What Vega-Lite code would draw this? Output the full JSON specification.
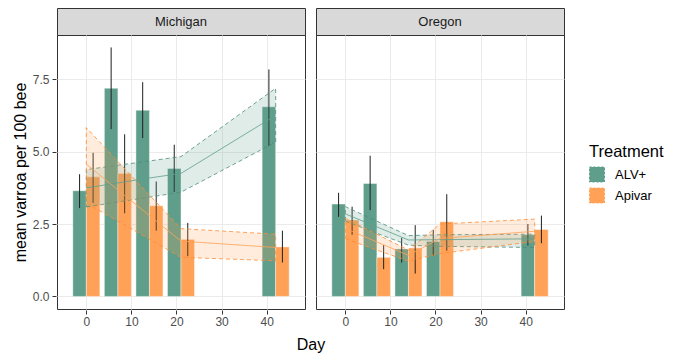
{
  "$schema": "https://vega.github.io/schema/vega-lite/v6.json",
  "background": "white",
  "padding": {"left": 12, "top": 7, "right": 5, "bottom": 4},
  "bounds": "flush",
  "spacing": 27,
  "config": {
    "font": "Liberation Sans",
    "view": {"stroke": "#333333", "strokeWidth": 1}
  },
  "datasets": {
    "strips": [{"State": "Michigan"}, {"State": "Oregon"}],
    "varroa": [
      {"State": "Michigan", "Treatment": "ALV+", "Day": 0, "mean": 3.65, "lo": 3.05, "hi": 4.22, "fit": 3.75, "fit_lo": 3.09, "fit_hi": 4.38},
      {"State": "Michigan", "Treatment": "ALV+", "Day": 7, "mean": 7.19, "lo": 5.78, "hi": 8.6, "fit": 3.92, "fit_lo": 3.26, "fit_hi": 4.53},
      {"State": "Michigan", "Treatment": "ALV+", "Day": 14, "mean": 6.43, "lo": 5.47, "hi": 7.4, "fit": 4.09, "fit_lo": 3.43, "fit_hi": 4.68},
      {"State": "Michigan", "Treatment": "ALV+", "Day": 21, "mean": 4.42, "lo": 3.61, "hi": 5.24, "fit": 4.25, "fit_lo": 3.6, "fit_hi": 4.83},
      {"State": "Michigan", "Treatment": "ALV+", "Day": 42, "mean": 6.55, "lo": 5.2, "hi": 7.84, "fit": 6.25, "fit_lo": 5.33, "fit_hi": 7.19},
      {"State": "Michigan", "Treatment": "Apivar", "Day": 0, "mean": 4.13, "lo": 3.23, "hi": 4.96, "fit": 4.57, "fit_lo": 3.22, "fit_hi": 5.83},
      {"State": "Michigan", "Treatment": "Apivar", "Day": 7, "mean": 4.25, "lo": 2.87, "hi": 5.6, "fit": 3.68, "fit_lo": 2.6, "fit_hi": 4.66},
      {"State": "Michigan", "Treatment": "Apivar", "Day": 14, "mean": 3.13, "lo": 2.27, "hi": 3.97, "fit": 2.79, "fit_lo": 1.98, "fit_hi": 3.5},
      {"State": "Michigan", "Treatment": "Apivar", "Day": 21, "mean": 1.97, "lo": 1.39, "hi": 2.54, "fit": 1.91, "fit_lo": 1.35, "fit_hi": 2.34},
      {"State": "Michigan", "Treatment": "Apivar", "Day": 42, "mean": 1.71, "lo": 1.17, "hi": 2.27, "fit": 1.69, "fit_lo": 1.23, "fit_hi": 2.15},
      {"State": "Oregon", "Treatment": "ALV+", "Day": 0, "mean": 3.19, "lo": 2.75, "hi": 3.58, "fit": 2.85, "fit_lo": 2.6, "fit_hi": 3.1},
      {"State": "Oregon", "Treatment": "ALV+", "Day": 7, "mean": 3.9, "lo": 2.98, "hi": 4.86, "fit": 2.4, "fit_lo": 2.18, "fit_hi": 2.6},
      {"State": "Oregon", "Treatment": "ALV+", "Day": 14, "mean": 1.64, "lo": 1.17, "hi": 2.02, "fit": 1.95, "fit_lo": 1.77, "fit_hi": 2.1},
      {"State": "Oregon", "Treatment": "ALV+", "Day": 21, "mean": 1.9, "lo": 1.4, "hi": 2.3, "fit": 1.96, "fit_lo": 1.73, "fit_hi": 2.13},
      {"State": "Oregon", "Treatment": "ALV+", "Day": 42, "mean": 2.13, "lo": 1.75, "hi": 2.5, "fit": 1.99, "fit_lo": 1.69, "fit_hi": 2.15},
      {"State": "Oregon", "Treatment": "Apivar", "Day": 0, "mean": 2.64, "lo": 2.13, "hi": 3.1, "fit": 2.35, "fit_lo": 2.0, "fit_hi": 2.7},
      {"State": "Oregon", "Treatment": "Apivar", "Day": 7, "mean": 1.35, "lo": 0.94, "hi": 1.77, "fit": 1.88, "fit_lo": 1.6, "fit_hi": 2.15},
      {"State": "Oregon", "Treatment": "Apivar", "Day": 14, "mean": 1.67, "lo": 0.79, "hi": 2.46, "fit": 1.42, "fit_lo": 1.22, "fit_hi": 1.6},
      {"State": "Oregon", "Treatment": "Apivar", "Day": 21, "mean": 2.58, "lo": 1.58, "hi": 3.53, "fit": 2.0, "fit_lo": 1.48, "fit_hi": 2.5},
      {"State": "Oregon", "Treatment": "Apivar", "Day": 42, "mean": 2.31, "lo": 1.84, "hi": 2.79, "fit": 2.25, "fit_lo": 1.9, "fit_hi": 2.67}
    ]
  },
  "vconcat": [
    {
      "data": {"name": "strips"},
      "facet": {"column": {"field": "State", "type": "nominal", "title": null, "header": {"labels": false, "title": null}}},
      "spacing": 9,
      "spec": {
        "width": 248,
        "height": 27,
        "view": {"fill": "#d9d9d9", "stroke": "#333333", "strokeWidth": 1},
        "mark": {"type": "text", "fontSize": 13, "color": "#1a1a1a", "baseline": "middle", "align": "center"},
        "encoding": {"text": {"field": "State", "type": "nominal"}}
      }
    },
    {
      "data": {"name": "varroa"},
      "transform": [
        {"calculate": "datum.Treatment === 'ALV+' ? datum.Day - 3 : datum.Day", "as": "bx0"},
        {"calculate": "datum.Treatment === 'ALV+' ? datum.Day : datum.Day + 3", "as": "bx1"},
        {"calculate": "datum.Treatment === 'ALV+' ? datum.Day - 1.5 : datum.Day + 1.5", "as": "ex"}
      ],
      "facet": {
        "column": {
          "field": "State", "type": "nominal", "title": "Day",
          "header": {"labels": false, "titleOrient": "bottom", "titleFontSize": 16, "titleFontWeight": "normal", "titleColor": "#000000", "titlePadding": 0, "titleFont": "Liberation Sans"}
        }
      },
      "spacing": 9,
      "spec": {
        "width": 248,
        "height": 274,
        "layer": [
          {
            "mark": {"type": "bar", "orient": "vertical", "stroke": "#ffffff", "strokeWidth": 0.6, "strokeOpacity": 0.7},
            "encoding": {
              "x": {"field": "bx0", "type": "quantitative",
                "scale": {"domain": [-5.4, 47.4], "nice": false, "zero": false},
                "axis": {"orient": "bottom", "values": [0, 10, 20, 30, 40], "title": null, "grid": true, "gridColor": "#ebebeb", "gridWidth": 1, "domain": false, "tickColor": "#333333", "tickSize": 4, "labelColor": "#4d4d4d", "labelFontSize": 12, "labelPadding": 2}},
              "x2": {"field": "bx1"},
              "y": {"field": "mean", "type": "quantitative",
                "scale": {"domain": [-0.435, 9.03], "nice": false, "zero": false},
                "axis": {"orient": "left", "values": [0, 1.25, 2.5, 3.75, 5, 6.25, 7.5, 8.75], "labelExpr": "datum.value % 2.5 === 0 ? format(datum.value, '.1f') : ''", "labelOverlap": false, "title": "mean varroa per 100 bee", "titleFontSize": 16, "titleFontWeight": "normal", "titleColor": "#000000", "titlePadding": 4, "grid": true,
                  "gridColor": "#ebebeb",
                  "gridWidth": {"condition": {"test": "datum.value % 2.5 === 0", "value": 1}, "value": 0.5},
                  "tickOpacity": {"condition": {"test": "datum.value % 2.5 === 0", "value": 1}, "value": 0},
                  "domain": false, "tickColor": "#333333", "tickSize": 4, "labelColor": "#4d4d4d", "labelFontSize": 12, "labelPadding": 3}},
              "y2": {"datum": 0},
              "color": {"field": "Treatment", "type": "nominal",
                "scale": {"domain": ["ALV+", "Apivar"], "range": ["#5f9e8b", "#ffa257"]},
                "legend": {"title": "Treatment", "orient": "none", "legendX": 532, "legendY": 136, "titleFontSize": 16.5, "titleFontWeight": "normal", "titleColor": "#000000", "labelFontSize": 13, "labelColor": "#000000", "symbolType": "square", "symbolSize": 225, "symbolStrokeWidth": 1, "symbolDash": [2, 2], "rowPadding": 1, "titlePadding": 6, "labelOffset": 10}}
            }
          },
          {
            "mark": {"type": "rule", "color": "#1f1f1f", "strokeWidth": 1},
            "encoding": {
              "x": {"field": "ex", "type": "quantitative"},
              "y": {"field": "lo", "type": "quantitative"},
              "y2": {"field": "hi"}
            }
          },
          {
            "mark": {"type": "area", "fillOpacity": 0.2, "strokeWidth": 0.8, "strokeDash": [4, 3]},
            "encoding": {
              "x": {"field": "Day", "type": "quantitative"},
              "y": {"field": "fit_lo", "type": "quantitative"},
              "y2": {"field": "fit_hi"},
              "color": {"field": "Treatment", "type": "nominal"},
              "stroke": {"field": "Treatment", "type": "nominal", "scale": {"domain": ["ALV+", "Apivar"], "range": ["#4e8a79", "#ff8c33"]}, "legend": null}
            }
          },
          {
            "mark": {"type": "line", "strokeWidth": 0.8},
            "encoding": {
              "x": {"field": "Day", "type": "quantitative"},
              "y": {"field": "fit", "type": "quantitative"},
              "color": {"field": "Treatment", "type": "nominal"}
            }
          }
        ]
      }
    }
  ]
}
